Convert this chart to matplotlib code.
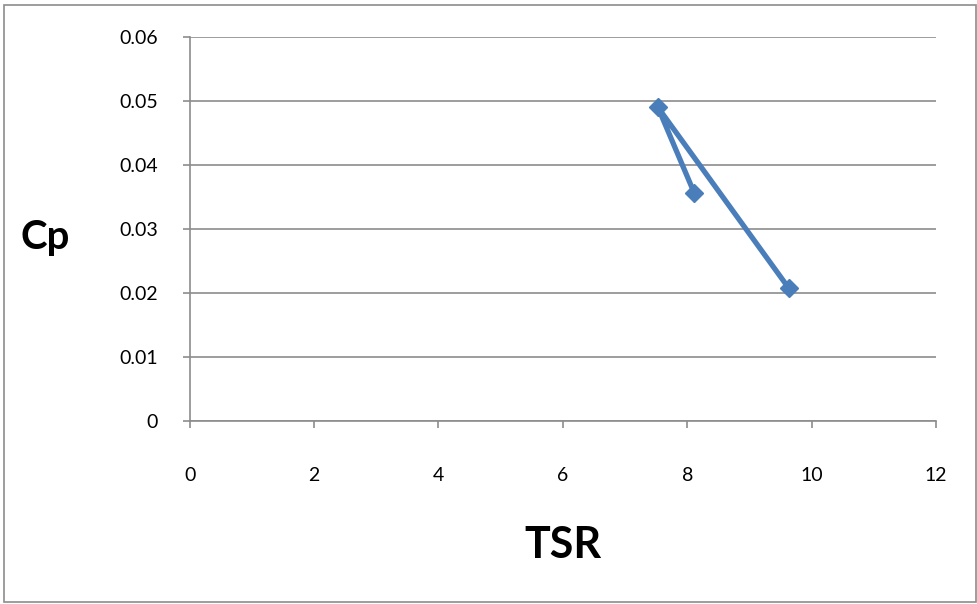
import matplotlib.pyplot as plt

# TSR vs Cp
tsr = [9.63, 7.53, 8.11]
cp = [0.0208, 0.049, 0.0357]

x_ticks = [0, 2, 4, 6, 8, 10, 12]
y_ticks = [0, 0.01, 0.02, 0.03, 0.04, 0.05, 0.06]
y_labels = ['0', '0.01', '0.02', '0.03', '0.04', '0.05', '0.06']

plt.rcParams['font.family'] = ['Lato', 'DejaVu Sans']

fig = plt.figure(figsize=(9.78, 6.04), dpi=100)
ax = fig.add_axes([0.194, 0.303, 0.763, 0.6357])

# borde exterior del gráfico
fig.patches.append(plt.Rectangle((0.004, 0.004), 0.994, 0.988, transform=fig.transFigure,
                                 fill=False, edgecolor='#8c8c8c', linewidth=1.2))

ax.plot(tsr, cp, color='#4a7ebb', linewidth=3.8, marker='D', markersize=9,
        solid_joinstyle='round')

ax.set_xlim(0, 12)
ax.set_ylim(0, 0.06)
ax.set_xticks(x_ticks)
ax.set_yticks(y_ticks)
ax.set_yticklabels(y_labels)

ax.grid(axis='y', color='#8c8c8c', linewidth=1.2)
ax.set_axisbelow(True)
for s in ['top', 'right']:
    ax.spines[s].set_visible(False)
for s in ['left', 'bottom']:
    ax.spines[s].set_color('#8c8c8c')
    ax.spines[s].set_linewidth(1.2)

ax.tick_params(axis='y', length=5, color='#8c8c8c', width=1.2, labelsize=14, pad=18)
ax.tick_params(axis='x', length=5, color='#8c8c8c', width=1.2, labelsize=14, pad=28)

fig.text(0.046, 0.607, 'Cp', fontsize=29, fontweight='bold', ha='center', va='center')
fig.text(0.576, 0.098, 'TSR', fontsize=31, fontweight='bold', ha='center', va='center')

fig.savefig('out.png', dpi=100)
